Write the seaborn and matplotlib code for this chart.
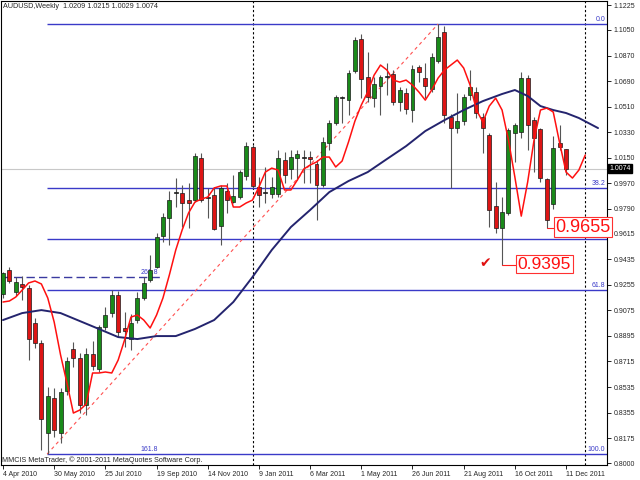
import numpy as np
import pandas as pd
import matplotlib
matplotlib.use("Agg")
import matplotlib.pyplot as plt
import matplotlib.transforms as mtransforms
import seaborn as sns

# weekly AUDUSD bars, 4 Apr 2010 .. 11 Dec 2011
bar_open = [
    0.9190, 0.9359, 0.9204, 0.9261, 0.9232, 0.8986, 0.8845, 0.8211, 0.8458, 0.8211,
    0.8507, 0.8803, 0.8739, 0.8408, 0.8768, 0.8662, 0.8958, 0.9056, 0.9183, 0.8951,
    0.8873, 0.9007, 0.9162, 0.9289, 0.9380, 0.9599, 0.9725, 0.9908, 0.9901, 0.9852,
    0.9852, 1.0148, 0.9873, 0.9887, 0.9669, 0.9915, 0.9838, 0.9873, 1.0021, 1.0225,
    0.9944, 0.9908, 0.9894, 0.9894, 1.0134, 1.0070, 1.0148, 1.0155, 1.0155, 1.0106,
    0.9958, 1.0254, 1.0394, 1.0577, 1.0556, 1.0761, 1.0986, 1.0718, 1.0570, 1.0655,
    1.0725, 1.0739, 1.0542, 1.0606, 1.0486, 1.0789, 1.0711, 1.0634, 1.0831, 1.1035,
    1.0437, 1.0359, 1.0408, 1.0592, 1.0613, 1.0437, 1.0310, 0.9810, 0.9655, 0.9761,
    1.0324, 1.0331, 1.0711, 1.0415, 1.0352, 1.0000, 0.9824, 1.0254, 1.0209]
bar_high = [
    0.9345, 0.9380, 0.9310, 0.9317, 0.9254, 0.9021, 0.8866, 0.8535, 0.8528, 0.8528,
    0.8746, 0.8852, 0.8775, 0.8810, 0.8859, 0.8972, 0.9099, 0.9218, 0.9211, 0.9063,
    0.9049, 0.9204, 0.9310, 0.9465, 0.9620, 0.9761, 0.9915, 1.0007, 0.9958, 0.9972,
    1.0183, 1.0183, 0.9937, 0.9944, 0.9958, 0.9972, 1.0028, 1.0063, 1.0261, 1.0239,
    1.0014, 1.0085, 1.0014, 1.0204, 1.0190, 1.0204, 1.0204, 1.0204, 1.0197, 1.0134,
    1.0296, 1.0415, 1.0592, 1.0585, 1.0768, 1.1000, 1.1021, 1.0894, 1.0718, 1.0732,
    1.0817, 1.0768, 1.0648, 1.0641, 1.0803, 1.0803, 1.0817, 1.0887, 1.1092, 1.1077,
    1.0458, 1.0606, 1.0599, 1.0768, 1.0648, 1.0465, 1.0324, 0.9979, 0.9873, 1.0359,
    1.0394, 1.0754, 1.0732, 1.0437, 1.0359, 1.0007, 1.0303, 1.0380, 1.0215]
bar_low = [
    0.9162, 0.9268, 0.9176, 0.9148, 0.8725, 0.8810, 0.8092, 0.8063, 0.8183, 0.8141,
    0.8479, 0.8676, 0.8352, 0.8338, 0.8655, 0.8641, 0.8937, 0.9028, 0.8887, 0.8817,
    0.8796, 0.8986, 0.9148, 0.9275, 0.9373, 0.9556, 0.9535, 0.9803, 0.9662, 0.9655,
    0.9838, 0.9838, 0.9725, 0.9641, 0.9535, 0.9761, 0.9831, 0.9859, 0.9993, 0.9937,
    0.9803, 0.9831, 0.9866, 0.9873, 0.9972, 1.0000, 0.9993, 0.9972, 0.9972, 0.9711,
    0.9944, 1.0204, 1.0380, 1.0394, 1.0451, 1.0746, 1.0570, 1.0542, 1.0507, 1.0451,
    1.0592, 1.0521, 1.0479, 1.0458, 1.0401, 1.0683, 1.0570, 1.0613, 1.0817, 1.0394,
    0.9937, 1.0324, 1.0380, 1.0556, 1.0430, 1.0183, 0.9662, 0.9620, 0.9395, 0.9746,
    1.0120, 1.0289, 1.0204, 1.0049, 0.9979, 0.9655, 0.9789, 1.0204, 1.0029]
bar_close = [
    0.9338, 0.9282, 0.9275, 0.9239, 0.8873, 0.8845, 0.8310, 0.8472, 0.8232, 0.8500,
    0.8718, 0.8739, 0.8408, 0.8768, 0.8683, 0.8958, 0.9042, 0.9183, 0.8923, 0.8930,
    0.8986, 0.9162, 0.9268, 0.9359, 0.9592, 0.9732, 0.9852, 0.9901, 0.9831, 0.9831,
    1.0162, 0.9852, 0.9866, 0.9648, 0.9937, 0.9852, 0.9880, 1.0049, 1.0232, 0.9951,
    0.9887, 0.9901, 0.9944, 1.0148, 1.0028, 1.0155, 1.0176, 1.0148, 1.0141, 0.9958,
    1.0261, 1.0394, 1.0577, 1.0570, 1.0746, 1.0979, 1.0704, 1.0577, 1.0669, 1.0718,
    1.0718, 1.0542, 1.0627, 1.0493, 1.0775, 1.0754, 1.0655, 1.0859, 1.1000, 1.0451,
    1.0359, 1.0408, 1.0577, 1.0648, 1.0465, 1.0359, 0.9782, 0.9655, 0.9768, 1.0345,
    1.0380, 1.0711, 1.0380, 1.0289, 1.0007, 0.9711, 1.0218, 1.0225, 1.0074]

date_ticks = [0, 8, 16, 24, 32, 40, 48, 56, 64, 72, 80, 88]
date_labels = ["4 Apr 2010", "30 May 2010", "25 Jul 2010", "19 Sep 2010",
               "14 Nov 2010", "9 Jan 2011", "6 Mar 2011", "1 May 2011",
               "26 Jun 2011", "21 Aug 2011", "16 Oct 2011", "11 Dec 2011"]
price_ticks = [1.1225, 1.1050, 1.0870, 1.0690, 1.0510, 1.0330, 1.0150, 0.9970,
               0.9790, 0.9615, 0.9435, 0.9255, 0.9075, 0.8895, 0.8715, 0.8535,
               0.8355, 0.8175, 0.8000]

# moving averages as drawn (they run a few bars past the last candle)
fast_ma = [
    0.9134, 0.9141, 0.9169, 0.9218, 0.9268, 0.9282, 0.9261, 0.9162, 0.8993, 0.8761,
    0.8563, 0.8352, 0.8373, 0.8415, 0.8634, 0.8634, 0.8641, 0.8634, 0.8725, 0.8866,
    0.9028, 0.9042, 0.9007, 0.8951, 0.9042, 0.9162, 0.9324, 0.9500, 0.9641, 0.9761,
    0.9838, 0.9859, 0.9873, 0.9937, 0.9951, 0.9951, 0.9803, 0.9803, 0.9831, 0.9852,
    0.9944, 1.0049, 1.0077, 1.0063, 0.9923, 0.9923, 0.9993, 1.0070, 1.0099, 1.0120,
    1.0155, 1.0155, 1.0085, 1.0127, 1.0261, 1.0408, 1.0521, 1.0613, 1.0732, 1.0803,
    1.0768, 1.0697, 1.0683, 1.0697, 1.0662, 1.0613, 1.0556, 1.0627, 1.0711, 1.0768,
    1.0803, 1.0838, 1.0782, 1.0662, 1.0486, 1.0401, 1.0514, 1.0570, 1.0486, 1.0275,
    1.0014, 0.9739, 0.9979, 1.0275, 1.0486, 1.0500, 1.0472, 1.0254, 1.0049, 1.0007,
    1.0063, 1.0169]
slow_ma_bar = [0, 3, 6, 9, 12, 15, 18, 21, 24, 27, 30, 33, 36, 39, 42, 45, 48,
               51, 54, 57, 60, 63, 66, 69, 72, 75, 78, 80, 82, 84, 86, 88, 90, 93]
slow_ma = [0.9007, 0.9056, 0.9077, 0.9056, 0.9000, 0.8944, 0.8887, 0.8873, 0.8894,
           0.8894, 0.8944, 0.9007, 0.9134, 0.9310, 0.9500, 0.9662, 0.9782, 0.9908,
           0.9986, 1.0049, 1.0141, 1.0232, 1.0338, 1.0415, 1.0486, 1.0549, 1.0599,
           1.0627, 1.0585, 1.0514, 1.0486, 1.0465, 1.0430, 1.0359]

fib_levels = [1.1092, 0.9935, 0.9578, 0.9220, 0.8063]
fib_names = ["0.0", "38.2", "50.0", "61.8", "100.0"]
ext_level = 0.9310   # dashed 261.8 line on the left
last_price = 1.0074

sns.set_theme(style="white")
plt.rcParams["font.family"] = ["Liberation Sans", "DejaVu Sans"]

fig = plt.figure(figsize=(6.4, 4.8), dpi=100)
ax = fig.add_axes([1 / 640, 15 / 480, 606 / 640, 464 / 480])
ax.set_xlim(-0.31, 94.4)
ax.set_ylim(0.7986, 1.1254)

FIB_BLUE = "#3a3ac8"

# --- background objects ---
ax.axhline(last_price, color="#c8c8c8", lw=0.8, zorder=1)
for sep in [39, 91]:  # year separators
    ax.axvline(sep, color="black", lw=0.8, ls=(0, (2, 2)), zorder=1)
ax.hlines(fib_levels, 6.9, 94.4, color=FIB_BLUE, lw=1.0, zorder=1)
ax.hlines(ext_level, -0.3, 24.5, color="#3a3aa0", lw=1.0, ls=(0, (6, 3)), zorder=1)
ax.plot([6.9, 68], [fib_levels[-1], fib_levels[0]], color="#ff5050", lw=0.8,
        ls=(0, (3, 3)), zorder=1)

for lvl, name in zip(fib_levels, fib_names):
    ax.text(94.1, lvl + 0.0009, name, color=FIB_BLUE, fontsize=5, ha="right",
            va="bottom", zorder=2)
ax.text(24.3, fib_levels[-1] + 0.0009, "161.8", color=FIB_BLUE, fontsize=5,
        ha="right", va="bottom", zorder=2)
ax.text(24.3, ext_level + 0.0009, "261.8", color=FIB_BLUE, fontsize=5,
        ha="right", va="bottom", zorder=2)

# --- candles ---
idx = np.arange(len(bar_close))
o = np.array(bar_open)
c = np.array(bar_close)
body_lo = np.minimum(o, c)
body_h = np.abs(c - o)
doji = body_h < 0.0009
colors = np.where(c > o, "#1a8a1a", "#dd1515")
colors = np.where(doji, "#222222", colors)
body_h = np.maximum(body_h, 0.0005)
ax.vlines(idx, bar_low, bar_high, color="#555555", lw=0.8, zorder=2)
ax.bar(idx, body_h, bottom=body_lo, width=0.62, color=colors,
       edgecolor="#1a1a1a", linewidth=0.5, zorder=3)

# --- moving averages ---
fast = pd.DataFrame({"bar": np.arange(len(fast_ma)), "price": fast_ma})
slow = pd.DataFrame({"bar": slow_ma_bar, "price": slow_ma})
sns.lineplot(data=slow, x="bar", y="price", ax=ax, color="#24246e", lw=1.4,
             estimator=None, sort=False, zorder=4)
sns.lineplot(data=fast, x="bar", y="price", ax=ax, color="#ff1010", lw=1.1,
             estimator=None, sort=False, zorder=4)
ax.set_xlabel("")
ax.set_ylabel("")

# --- axes ---
ax.set_xticks(date_ticks)
ax.set_xticklabels(date_labels, ha="left")
ax.yaxis.tick_right()
ax.set_yticks(price_ticks)
ax.set_yticklabels([f"{p:.4f}" for p in price_ticks])
ax.tick_params(axis="x", bottom=True, labelsize=5, length=3, width=0.6,
               color="black", pad=1.5, direction="out")
ax.tick_params(axis="y", right=True, left=False, labelright=True, labelleft=False,
               labelsize=5, length=3, width=0.6, color="black", pad=2,
               direction="out")
for sp in ax.spines.values():
    sp.set_color("black")
    sp.set_linewidth(0.8)
ax.grid(False)

trans = mtransforms.blended_transform_factory(ax.transAxes, ax.transData)
ax.text(1.004, last_price, f"{last_price:.4f}", transform=trans, fontsize=5,
        color="white", ha="left", va="center",
        bbox=dict(facecolor="black", edgecolor="black", pad=0.8))

# --- header and footer ---
ax.text(0.004, 0.995, "AUDUSD,Weekly  1.0209 1.0215 1.0029 1.0074",
        transform=ax.transAxes, fontsize=5.2, ha="left", va="top")
ax.text(0.002, 0.003, "MMCIS MetaTrader, \u00a9 2001-2011 MetaQuotes Software Corp.",
        transform=ax.transAxes, fontsize=5.2, ha="left", va="bottom", zorder=5)

# --- price callouts ---
callout = dict(facecolor="white", edgecolor="#ff3030", lw=0.8, pad=1.2)
ax.plot([85, 86.2], [0.9655, 0.9655], color="#ff2020", lw=0.8, zorder=5)
ax.text(86.3, 0.9662, "0.9655", fontsize=13, color="#ff1010", ha="left",
        va="center", bbox=callout, zorder=6)
ax.plot([78, 80.3], [0.9395, 0.9395], color="#ff2020", lw=0.8, zorder=5)
ax.text(80.4, 0.9401, "0.9395", fontsize=12.5, color="#ff1010", ha="left",
        va="center", bbox=callout, zorder=6)
ax.text(75.3, 0.9408, "\u2714", fontsize=10, color="#e01010", ha="center",
        va="center", family=["DejaVu Sans"], zorder=6)

fig.savefig("out.png", dpi=100)
